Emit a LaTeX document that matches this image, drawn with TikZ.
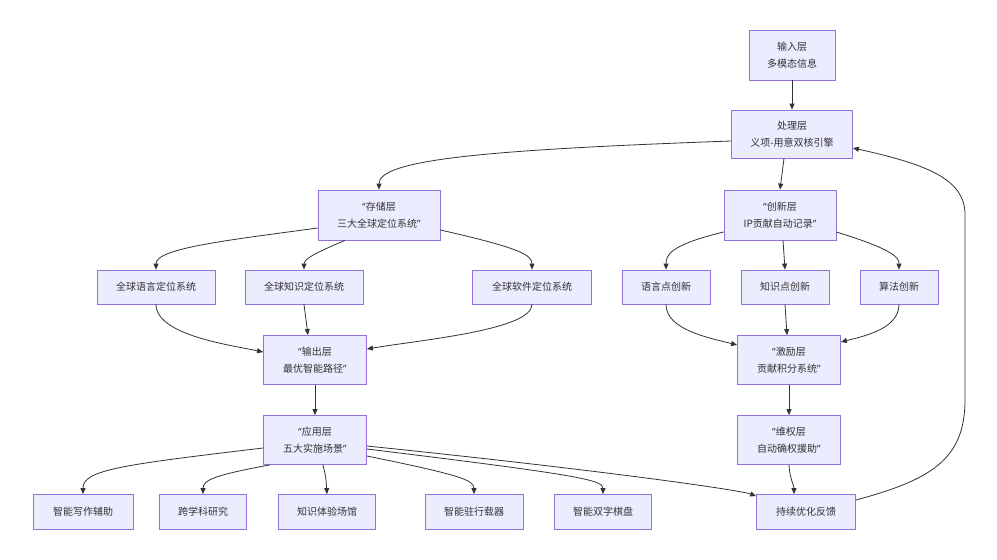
\documentclass[tikz,border=0pt]{standalone}
\usepackage{fontspec}
\setmainfont{Noto Sans CJK SC}
\newfontfamily\qfont{Noto Sans}
\newcommand\myoq{{\qfont “}}
\newcommand\mycq{{\qfont ”}}
\usetikzlibrary{arrows.meta}
\definecolor{nfill}{HTML}{ECECFF}
\definecolor{nborder}{HTML}{9370DB}
\definecolor{ntext}{HTML}{333333}
\definecolor{edgec}{HTML}{333333}
\begin{document}
\begin{tikzpicture}[x=1pt,y=-1pt,
  box/.style={draw=nborder,fill=nfill,text=ntext,font=\fontsize{10}{17}\selectfont,align=center,inner sep=0pt,line width=0.8pt},
  edge/.style={draw=edgec,line width=0.8pt,-{Triangle[length=6pt,width=5pt]}}]
\useasboundingbox[fill=white] (0,0) rectangle (997,560);
% nodes
\node[box,minimum width=86pt,minimum height=50pt] (inp) at (792,55) {输入层\\多模态信息};
\node[box,minimum width=121pt,minimum height=48pt] (proc) at (792,134) {处理层\\义项-用意双核引擎};
\node[box,minimum width=122pt,minimum height=50pt] (stor) at (379,215) {\myoq 存储层\\三大全球定位系统\mycq};
\node[box,minimum width=112pt,minimum height=50pt] (innov) at (780,215) {\myoq 创新层\\IP贡献自动记录\mycq};
\node[box,minimum width=118pt,minimum height=34pt] (langg) at (156,287) {全球语言定位系统};
\node[box,minimum width=118pt,minimum height=34pt] (knowg) at (304,287) {全球知识定位系统};
\node[box,minimum width=119pt,minimum height=34pt] (softg) at (532,287) {全球软件定位系统};
\node[box,minimum width=88pt,minimum height=34pt] (langp) at (666,287) {语言点创新};
\node[box,minimum width=88pt,minimum height=34pt] (knowp) at (785,287) {知识点创新};
\node[box,minimum width=78pt,minimum height=34pt] (algo) at (899,287) {算法创新};
\node[box,minimum width=103pt,minimum height=49pt] (outp) at (315,360) {\myoq 输出层\\最优智能路径\mycq};
\node[box,minimum width=103pt,minimum height=49pt] (incent) at (789,360) {\myoq 激励层\\贡献积分系统\mycq};
\node[box,minimum width=103pt,minimum height=49pt] (app) at (315,440) {\myoq 应用层\\五大实施场景\mycq};
\node[box,minimum width=103pt,minimum height=49pt] (prot) at (789,440) {\myoq 维权层\\自动确权援助\mycq};
\node[box,minimum width=100pt,minimum height=35pt] (w1) at (83,512) {智能写作辅助};
\node[box,minimum width=87pt,minimum height=35pt] (w2) at (203,512) {跨学科研究};
\node[box,minimum width=97pt,minimum height=35pt] (w3) at (327,512) {知识体验场馆};
\node[box,minimum width=98pt,minimum height=35pt] (w4) at (474,512) {智能驻行载器};
\node[box,minimum width=97pt,minimum height=35pt] (w5) at (603,512) {智能双字棋盘};
\node[box,minimum width=99pt,minimum height=35pt] (fb) at (806,512) {持续优化反馈};
% edges
\draw[edge] (inp) -- (proc);
\draw[edge] ([yshift=-7pt]proc.west) .. controls (480,150) and (379,160) .. (stor.north);
\draw[edge] ([xshift=-8pt]proc.south) -- (innov.north);
\draw[edge] ([yshift=-13pt]stor.west) .. controls (230,240) and (156,248) .. (langg.north);
\draw[edge] ([xshift=-34pt]stor.south) .. controls (310,255) and (304,260) .. (knowg.north);
\draw[edge] ([yshift=-15pt]stor.east) .. controls (520,248) and (532,255) .. (softg.north);
\draw[edge] ([yshift=-17pt]innov.west) .. controls (670,245) and (666,255) .. (langp.north);
\draw[edge] ([xshift=3pt]innov.south) -- (knowp.north);
\draw[edge] ([yshift=-17pt]innov.east) .. controls (895,250) and (899,258) .. (algo.north);
\draw[edge] (langg.south) .. controls (156,335) and (230,345) .. ([yshift=8pt]outp.west);
\draw[edge] (knowg.south) -- ([xshift=-7pt]outp.north);
\draw[edge] (softg.south) .. controls (532,330) and (420,340) .. ([yshift=11pt]outp.east);
\draw[edge] (langp.south) .. controls (666,330) and (710,338) .. ([yshift=15pt]incent.west);
\draw[edge] (knowp.south) -- ([xshift=-2pt]incent.north);
\draw[edge] (algo.south) .. controls (899,330) and (860,337) .. ([yshift=18pt]incent.east);
\draw[edge] (outp) -- (app);
\draw[edge] (incent) -- (prot);
\draw[edge] (prot.south) .. controls (790,480) and (794,485) .. ([xshift=-12pt]fb.north);
\draw[edge] ([yshift=-8pt]app.west) .. controls (120,465) and (83,470) .. (w1.north);
\draw[edge] ([xshift=-45pt]app.south) .. controls (215,475) and (203,480) .. (w2.north);
\draw[edge] ([xshift=8pt]app.south) .. controls (326,478) .. (w3.north);
\draw[edge] ([yshift=-16pt]app.east) .. controls (460,475) and (474,480) .. (w4.north);
\draw[edge] ([yshift=-9pt]app.east) .. controls (580,475) and (603,480) .. (w5.north);
\draw[edge] ([yshift=-6pt]app.east) .. controls (600,470) and (740,490) .. ([yshift=-2pt]fb.north west);
\draw[edge] ([yshift=12pt]fb.east) .. controls (930,480) and (965,460) .. (965,400) -- (965,215) .. controls (965,180) and (930,165) .. ([yshift=-14pt]proc.east);
\end{tikzpicture}
\end{document}
